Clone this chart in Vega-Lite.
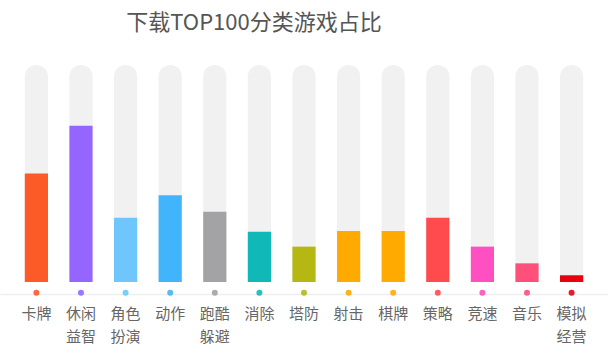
{
  "$schema": "https://vega.github.io/schema/vega-lite/v6.json",
  "width": 608,
  "height": 229,
  "autosize": {"type": "none"},
  "padding": {"top": 65, "left": 0, "right": 0, "bottom": 63},
  "background": "white",
  "config": {"view": {"stroke": null}},
  "title": {
    "text": "下载TOP100分类游戏占比",
    "font": "Noto Sans CJK SC",
    "fontSize": 22,
    "fontWeight": "normal",
    "color": "#555555",
    "anchor": "middle",
    "dx": -50,
    "offset": 30
  },
  "data": {
    "values": [
      {"name": "卡牌", "value": 50.0},
      {"name": "休闲益智", "value": 72.0},
      {"name": "角色扮演", "value": 29.6},
      {"name": "动作", "value": 40.0},
      {"name": "跑酷躲避", "value": 32.4},
      {"name": "消除", "value": 23.2},
      {"name": "塔防", "value": 16.3},
      {"name": "射击", "value": 23.5},
      {"name": "棋牌", "value": 23.5},
      {"name": "策略", "value": 29.6},
      {"name": "竞速", "value": 16.3},
      {"name": "音乐", "value": 8.6},
      {"name": "模拟经营", "value": 3.1}
    ]
  },
  "encoding": {
    "x": {
      "field": "name",
      "type": "nominal",
      "sort": null,
      "scale": {"paddingInner": 0.48, "paddingOuter": 0.556},
      "axis": {
        "title": null,
        "domainColor": "#eeeeee",
        "domainWidth": 1.5,
        "ticks": false,
        "grid": false,
        "labelAngle": 0,
        "labelFont": "Noto Sans CJK SC",
        "labelFontSize": 15,
        "labelColor": "#666666",
        "labelPadding": 12,
        "labelBaseline": "top",
        "labelLineHeight": 23,
        "labelExpr": "length(datum.value) > 2 ? [substring(datum.value, 0, 2), substring(datum.value, 2)] : datum.value"
      }
    }
  },
  "layer": [
    {
      "mark": {"type": "bar", "color": "#f1f1f1", "cornerRadiusTopLeft": 11.5, "cornerRadiusTopRight": 11.5},
      "encoding": {
        "y": {"datum": 100, "type": "quantitative", "scale": {"domain": [-5.53, 100], "nice": false, "zero": false}, "axis": null},
        "y2": {"datum": 0}
      }
    },
    {
      "mark": {"type": "bar"},
      "encoding": {
        "y": {"field": "value", "type": "quantitative"},
        "y2": {"datum": 0},
        "color": {
          "field": "name",
          "type": "nominal",
          "legend": null,
          "scale": {
            "domain": ["卡牌", "休闲益智", "角色扮演", "动作", "跑酷躲避", "消除", "塔防", "射击", "棋牌", "策略", "竞速", "音乐", "模拟经营"],
            "range": ["#fc5a27", "#9466ff", "#6ec6fd", "#42b4fb", "#a3a3a6", "#10b8b8", "#b5b812", "#ffaa00", "#ffaa00", "#ff4a4e", "#ff4fc0", "#ff4f7a", "#e8000f"]
          }
        }
      }
    },
    {
      "mark": {"type": "point", "filled": true, "size": 36, "opacity": 0.9},
      "encoding": {
        "y": {"datum": -5},
        "color": {"field": "name", "type": "nominal", "legend": null}
      }
    }
  ]
}
